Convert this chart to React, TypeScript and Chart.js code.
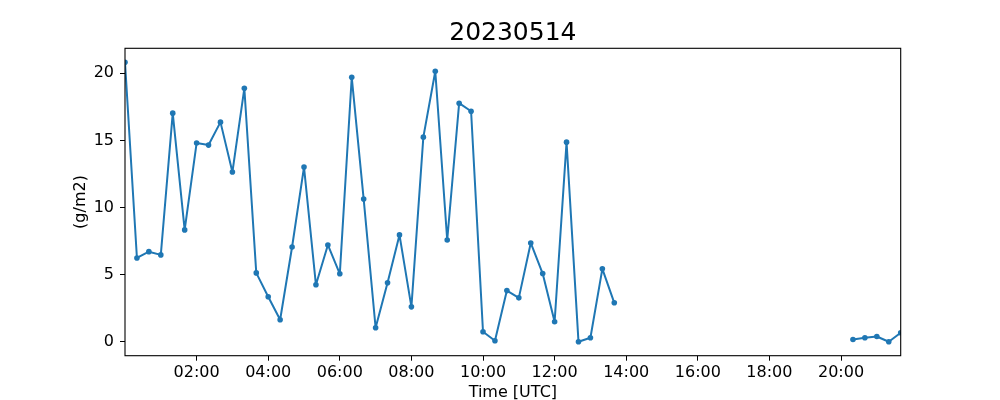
import React, { useEffect, useRef } from "react";
import { Chart, registerables } from "chart.js";

Chart.register(...registerables);

const chartTitle = "20230514";
const xAxisLabel = "Time [UTC]";
const yAxisLabel = "(g/m2)";

const timesA = [
  "00:00", "00:20", "00:40", "01:00", "01:20", "01:40", "02:00", "02:20", "02:40",
  "03:00", "03:20", "03:40", "04:00", "04:20", "04:40", "05:00", "05:20", "05:40",
  "06:00", "06:20", "06:40", "07:00", "07:20", "07:40", "08:00", "08:20", "08:40",
  "09:00", "09:20", "09:40", "10:00", "10:20", "10:40", "11:00", "11:20", "11:40",
  "12:00", "12:20", "12:40", "13:00", "13:20", "13:40",
];
const valuesA = [
  20.82, 6.24, 6.71, 6.47, 17.03, 8.33, 14.8, 14.65, 16.36,
  12.64, 18.88, 5.13, 3.35, 1.64, 7.06, 13.01, 4.24, 7.21,
  5.06, 19.7, 10.63, 1.04, 4.39, 7.96, 2.6, 15.24, 20.15,
  7.58, 17.77, 17.17, 0.74, 0.07, 3.81, 3.27, 7.36, 5.08,
  1.49, 14.87, 0.0, 0.3, 5.43, 2.9,
];
const timesB = ["20:20", "20:40", "21:00", "21:20", "21:40"];
const valuesB = [0.17, 0.3, 0.39, 0.0, 0.67];

const xTickLabels = ["02:00", "04:00", "06:00", "08:00", "10:00", "12:00", "14:00", "16:00", "18:00", "20:00"];
const yTickValues = [0, 5, 10, 15, 20];
const xLimits = ["00:00", "21:40"];
const yLimits = [-1.04, 21.86];

const lineColor = "#1f77b4";
const FONT = "'DejaVu Sans', sans-serif";

const toMin = (s: string) => {
  const [h, m] = s.split(":").map(Number);
  return h * 60 + m;
};
const fmt = (v: number) => {
  const h = Math.floor(v / 60);
  const m = Math.round(v % 60);
  return String(h).padStart(2, "0") + ":" + String(m).padStart(2, "0");
};

const frame = {
  id: "frame",
  afterDraw(chart: any) {
    const { ctx, chartArea } = chart;
    ctx.save();
    ctx.strokeStyle = "#000";
    ctx.lineWidth = 1.1;
    ctx.strokeRect(chartArea.left, chartArea.top, chartArea.right - chartArea.left, chartArea.bottom - chartArea.top);
    ctx.fillStyle = "#000";
    ctx.font = "25px " + FONT;
    ctx.textAlign = "center";
    ctx.textBaseline = "alphabetic";
    ctx.fillText(chartTitle, (chartArea.left + chartArea.right) / 2, 40);
    ctx.restore();
  },
};

export default function App() {
  const ref = useRef<HTMLCanvasElement | null>(null);
  useEffect(() => {
    document.body.style.margin = "0";
    const mk = (times: string[], vals: number[]) =>
      times.map((t, i) => ({ x: toMin(t), y: vals[i] }));
    const ds = (data: any[]) => ({
      data,
      borderColor: lineColor,
      backgroundColor: lineColor,
      borderWidth: 2,
      borderJoinStyle: "round",
      borderCapStyle: "round",
      pointRadius: 2.8,
      pointBorderWidth: 0,
      pointBackgroundColor: lineColor,
      tension: 0,
      clip: 0,
    });
    const chart = new Chart(ref.current!, {
      type: "line",
      data: {
        datasets: [ds(mk(timesA, valuesA)), ds(mk(timesB, valuesB))],
      },
      plugins: [frame],
      options: {
        animation: false,
        responsive: false,
        events: [],
        layout: { padding: { top: 48.3, right: 99.3, bottom: 0, left: 0 } },
        plugins: { legend: { display: false }, tooltip: { enabled: false }, title: { display: false } },
        scales: {
          x: {
            type: "linear",
            min: toMin(xLimits[0]),
            max: toMin(xLimits[1]),
            border: { display: false },
            grid: { display: true, drawOnChartArea: false, drawTicks: true, tickLength: 5, color: "#000", tickColor: "#000", tickWidth: 1 },
            ticks: {
              autoSkip: false,
              maxRotation: 0,
              padding: 3,
              color: "#000",
              font: { family: FONT, size: 16 },
              callback: (v: any) => fmt(Number(v)),
            },
            afterBuildTicks: (s: any) => {
              s.ticks = xTickLabels.map((t) => ({ value: toMin(t) }));
            },
            afterFit: (s: any) => {
              s.height = 400 - 355.7;
            },
            title: {
              display: true,
              text: xAxisLabel,
              color: "#000",
              font: { family: FONT, size: 16, lineHeight: 0.9 },
              padding: { top: 0, bottom: 0 },
            },
          },
          y: {
            type: "linear",
            min: yLimits[0],
            max: yLimits[1],
            border: { display: false },
            grid: { display: true, drawOnChartArea: false, drawTicks: true, tickLength: 5, color: "#000", tickColor: "#000", tickWidth: 1 },
            ticks: {
              autoSkip: false,
              padding: 6,
              color: "#000",
              font: { family: FONT, size: 16 },
              callback: (v: any) => String(v),
            },
            afterBuildTicks: (s: any) => {
              s.ticks = yTickValues.map((v) => ({ value: v }));
            },
            afterFit: (s: any) => {
              s.width = 125;
            },
            title: {
              display: true,
              text: yAxisLabel,
              color: "#000",
              font: { family: FONT, size: 16, lineHeight: 1 },
              padding: { top: 73, bottom: 0 },
            },
          },
        },
      } as any,
    });
    return () => chart.destroy();
  }, []);
  return (
    <div style={{ position: "absolute", left: 0, top: 0, width: 1000, height: 400, background: "#fff" }}>
      <canvas ref={ref} width={1000} height={400} />
    </div>
  );
}
